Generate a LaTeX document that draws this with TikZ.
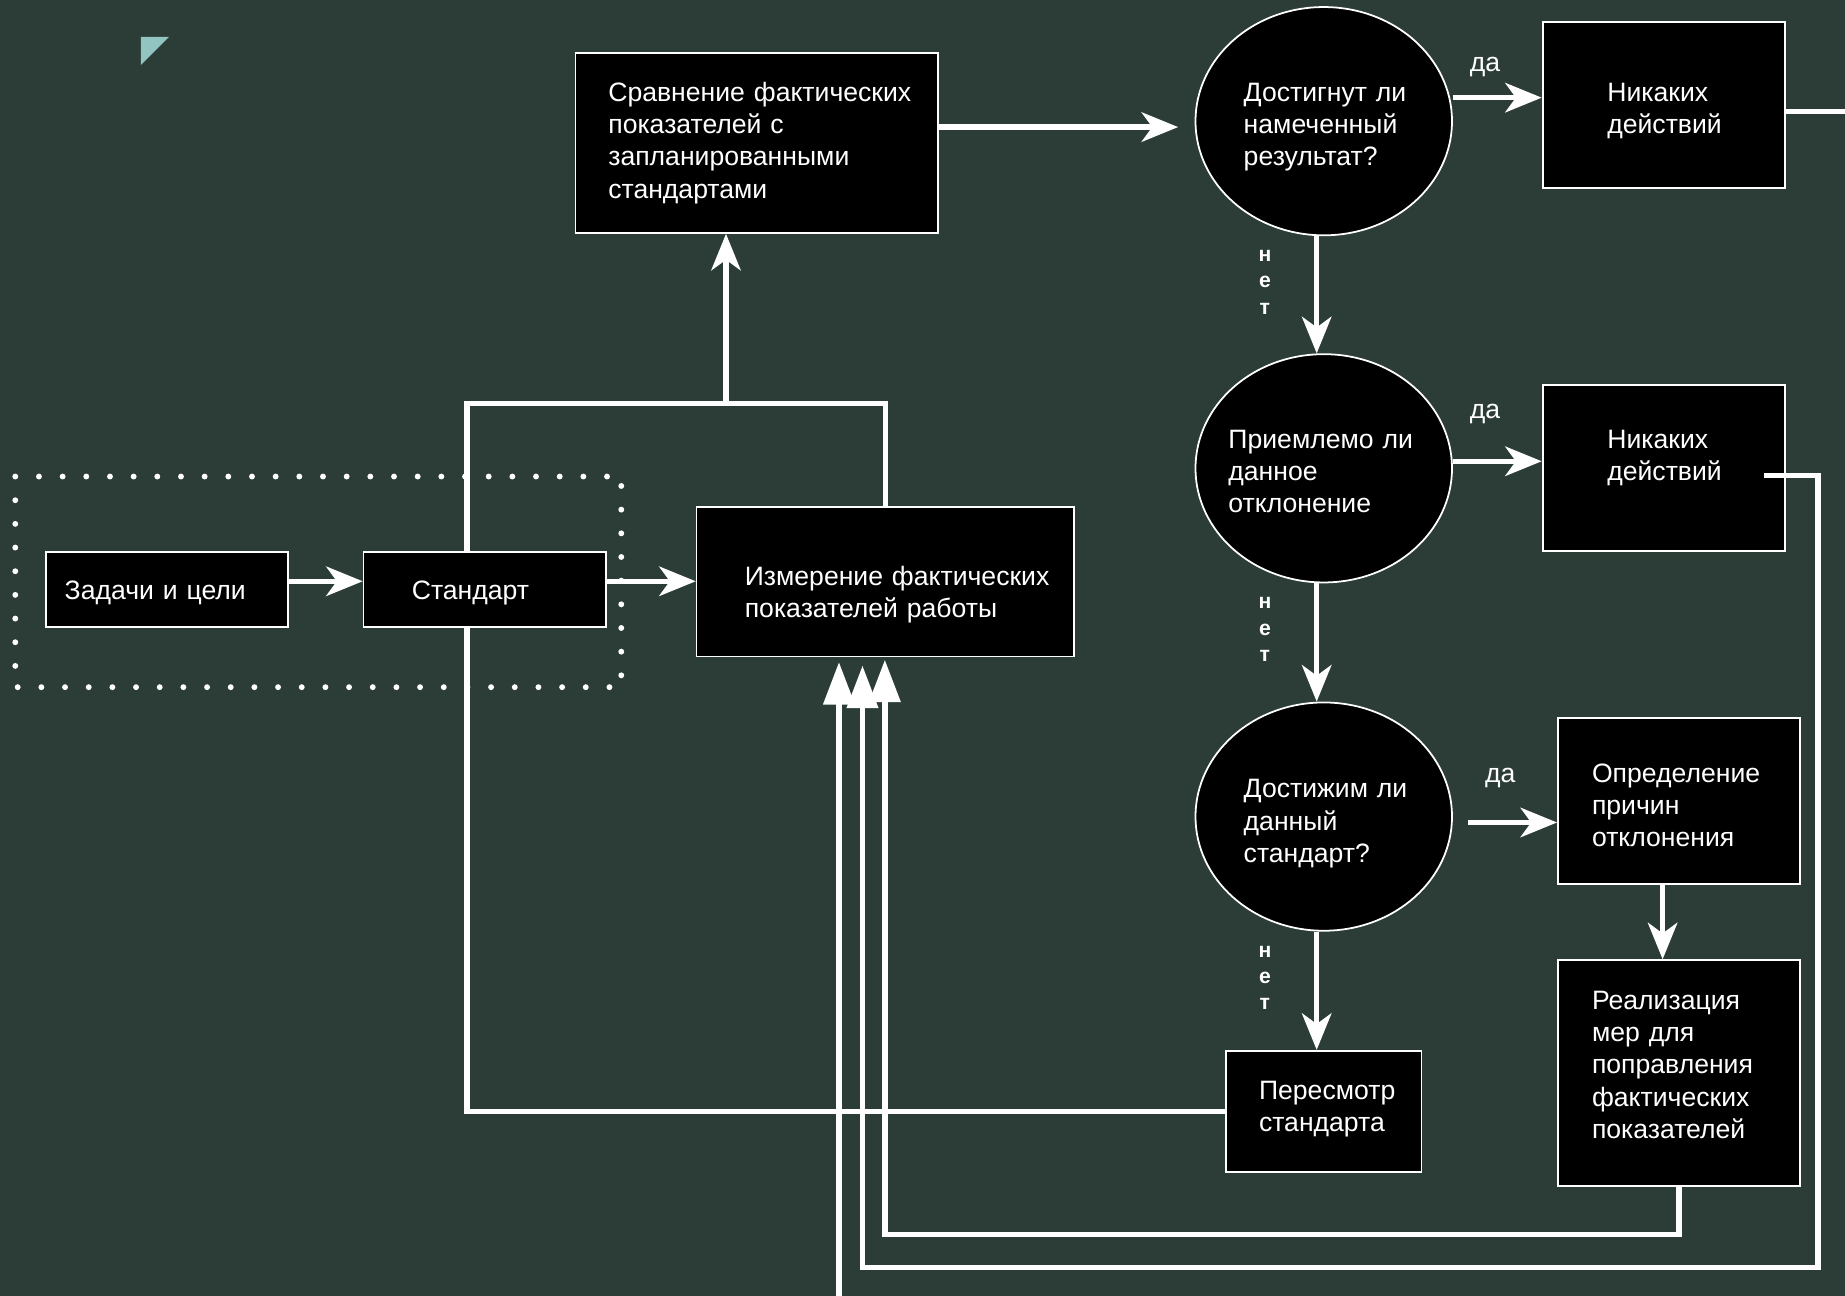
\documentclass[tikz,border=0pt]{standalone}
\usepackage{fontspec}
\setmainfont{Liberation Sans}
\usetikzlibrary{arrows.meta,shapes.geometric}
\definecolor{bgc}{HTML}{2B3D36}
\definecolor{tricol}{HTML}{92C4C2}
\newcommand\mainfnt{\fontsize{11.3}{13.65}\selectfont}
\newcommand\netfnt{\fontsize{9}{11.2}\selectfont\bfseries}
\newcommand\pushdn[2]{\raisebox{0pt}[\dimexpr\height+#1\relax]{#2}}
\newcommand\pushup[2]{\raisebox{0pt}[\height][\dimexpr\depth+#1\relax]{#2}}
\pgfdeclarelayer{bglayer}
\pgfdeclarelayer{lines}
\pgfsetlayers{bglayer,lines,main}
\begin{document}
\begin{tikzpicture}[x=0.5pt,y=-0.5pt,
  box/.style={draw=white, line width=0.75pt, fill=black, text=white, inner sep=0pt, align=left, font=\mainfnt},
  ell/.style={ellipse, draw=white, line width=0.75pt, fill=black, text=white, inner ysep=0pt, inner xsep=-4pt, align=left, font=\mainfnt, minimum width=109pt, minimum height=97pt},
  lbl/.style={text=white, font=\mainfnt, inner sep=0pt},
  netlbl/.style={text=white, font=\netfnt, align=center, inner sep=0pt},
  conn/.style={draw=white, line width=2.25pt},
  arr/.style={conn, -{Stealth[length=15.5pt,width=12.5pt,inset=4.5pt]}},
  tarr/.style={conn, -{Triangle[length=18pt,width=13pt]}}]
\useasboundingbox (0,0) rectangle (1568,1101);
\begin{pgfonlayer}{bglayer}
\fill[bgc] (0,0) rectangle (1568,1101);
\end{pgfonlayer}
% corner mark
\fill[tricol] (119.8,31.4) -- (143.6,31.4) -- (119.8,55.2) -- cycle;
% dotted frame
\draw[white, line width=2.5pt, line cap=round, dash pattern=on 0pt off 10.058pt] (13,405) rectangle (528,584);
% nodes
\node[box, minimum width=154pt, minimum height=76.5pt, text width=126pt] (sr) at (643,121.5)
  {Сравнение~фактических\\показателей~с\\запланированными\\стандартами};
\node[ell, text width=68pt] (ell1) at (1125,103) {\pushdn{5pt}{Достигнут~ли}\\намеченный\\результат?};
\node[box, minimum width=103pt, minimum height=70.5pt, text width=48pt] (nik1) at (1414,89.5) {\pushdn{5pt}{Никаких}\\действий};
\node[ell, text width=81pt] (ell2) at (1125,398) {\pushdn{3pt}{Приемлемо~ли}\\данное\\отклонение};
\node[box, minimum width=103pt, minimum height=70.5pt, text width=48pt] (nik2) at (1414,397.5) {Никаких\\\pushup{8pt}{действий}};
\node[ell, text width=68pt] (ell3) at (1125,694) {\pushdn{6pt}{Достижим~ли}\\данный\\стандарт?};
\node[box, minimum width=103pt, minimum height=70.5pt, text width=74pt] (opr) at (1427,680.5) {\pushdn{4pt}{Определение}\\причин\\отклонения};
\node[box, minimum width=103pt, minimum height=96pt, text width=74pt] (real) at (1427,912)
  {Реализация\\мер~для\\поправления\\фактических\\\pushup{7pt}{показателей}};
\node[box, minimum width=83pt, minimum height=51.5pt, text width=55pt] (per) at (1125,944.5) {Пересмотр\\\pushup{2pt}{стандарта}};
\node[box, minimum width=103pt, minimum height=32pt, text width=87pt] (zad) at (142,501) {\pushdn{3pt}{Задачи~и~цели}};
\node[box, minimum width=103pt, minimum height=32pt, text width=62pt] (std) at (412,501) {\pushdn{3pt}{Стандарт}};
\node[box, minimum width=160.5pt, minimum height=63.5pt, text width=119.5pt] (izm) at (752.5,494.5)
  {\pushdn{11pt}{Измерение~фактических}\\показателей~работы};
% labels
\node[lbl] (da1) at (1262,57) {да};
\node[lbl] (da2) at (1262,352) {да};
\node[lbl] (da3) at (1275,661) {да};
\node[netlbl] (net1) at (1075,240) {н\\е\\т};
\node[netlbl] (net2) at (1075,535) {н\\е\\т};
\node[netlbl] (net3) at (1075,831) {н\\е\\т};
% helper coordinates
\coordinate (y83) at (0,83);
\coordinate (y95) at (0,95);
\coordinate (y108) at (0,108);
\coordinate (y392) at (0,392);
\coordinate (y494) at (0,494);
\coordinate (y699) at (0,699);
\coordinate (x1119) at (1119,0);
\coordinate (x1413) at (1413,0);
\coordinate (c617) at (617,343);
\coordinate (c397) at (397,343);
\coordinate (k1545) at (1545,1077);
\coordinate (k733) at (733,0);
\coordinate (k752) at (752,1049);
\coordinate (k713) at (713,0);
\coordinate (offR) at (1600,1130);
% connectors
\begin{pgfonlayer}{lines}
\begin{scope}
\clip (0,0) rectangle (1568,1101);
\draw[arr] (zad.east |- y494) -- (std.west |- y494);
\draw[arr] (std.east |- y494) -- (izm.west |- y494);
\draw[arr] (izm.north) |- (c617) -- (sr.south -| c617);
\draw[conn] (per.west) -| (c397) -- (c617);
\draw[arr, shorten >=7pt] (sr.east |- y108) -- (ell1.west |- y108);
\draw[arr] (ell1.east |- y83) -- (nik1.west |- y83);
\draw[arr] (ell1.south -| x1119) -- (ell2.north -| x1119);
\draw[arr] (ell2.east |- y392) -- (nik2.west |- y392);
\draw[arr] (ell2.south -| x1119) -- (ell3.north -| x1119);
\draw[arr, shorten <=6.5pt] (ell3.east |- y699) -- (opr.west |- y699);
\draw[arr] (opr.south -| x1413) -- (real.north -| x1413);
\draw[arr] (ell3.south -| x1119) -- (per.north -| x1119);
\draw[tarr, shorten >=1pt] (real.south) |- (k752) -- (izm.south -| k752);
\draw[tarr, shorten >=2pt] (nik1.east |- y95) -| (offR) -| (izm.south -| k713);
\end{scope}
\end{pgfonlayer}
\draw[tarr, shorten >=3.5pt] ([xshift=-9.5pt,yshift=-3.25pt]nik2.east) -| (k1545) -| (izm.south -| k733);
\end{tikzpicture}
\end{document}
